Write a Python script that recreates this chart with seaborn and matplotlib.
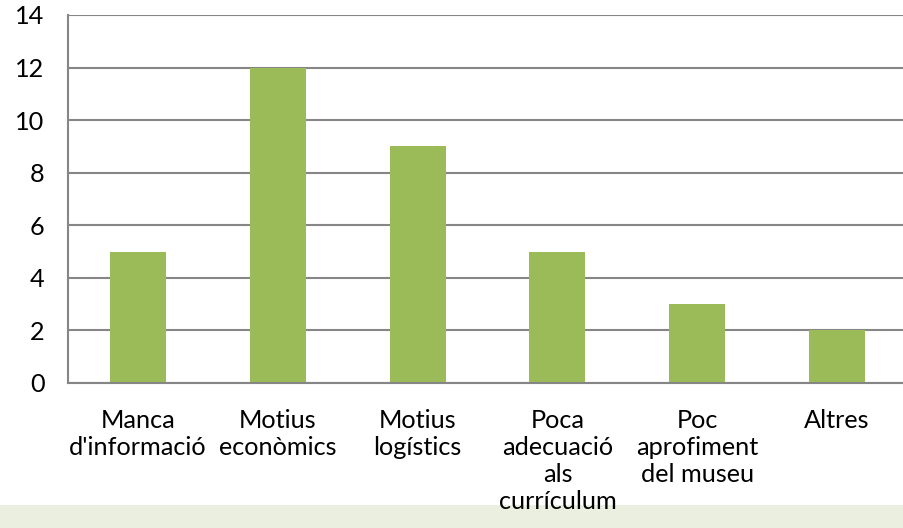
import matplotlib
matplotlib.use("Agg")
import matplotlib.pyplot as plt
import seaborn as sns
import pandas as pd
from matplotlib.patches import Rectangle

# ---------------------------------------------------------------------------
# Data
# ---------------------------------------------------------------------------
categories = [
    "Manca\nd'informació",
    "Motius\neconòmics",
    "Motius\nlogístics",
    "Poca\nadecuació\nals\ncurrículum",
    "Poc\naprofiment\ndel museu",
    "Altres",
]
values = [5, 12, 9, 5, 3, 2]
y_ticks = [0, 2, 4, 6, 8, 10, 12, 14]

# ---------------------------------------------------------------------------
# Style
# ---------------------------------------------------------------------------
BAR = "#9BBB59"
GRID = "#868686"
BAND = "#EBEFDF"
FS = 18.2

sns.set_theme(style="white")
plt.rcParams["font.family"] = ["Lato", "DejaVu Sans"]

df = pd.DataFrame({"categoria": categories, "valor": values})

fig = plt.figure(figsize=(9.04, 5.28), dpi=100)
fig.patch.set_facecolor("white")
fig.add_artist(Rectangle((0, 0), 1, 23 / 528, transform=fig.transFigure,
                         facecolor=BAND, edgecolor="none", zorder=-1))

ax = fig.add_axes([68 / 904, 1 - 383 / 528, 839 / 904, 368 / 528])
ax.set_facecolor("none")
sns.barplot(data=df, x="categoria", y="valor", color=BAR, saturation=1,
            width=0.4, linewidth=0, ax=ax)

ax.set_xlim(-0.5, len(categories) - 0.5)
ax.set_ylim(0, 14)
ax.set_yticks(y_ticks)
ax.yaxis.grid(True, color=GRID, linewidth=1.5)
ax.set_axisbelow(True)
ax.set_xlabel("")
ax.set_ylabel("")

for side in ("top", "right"):
    ax.spines[side].set_visible(False)
for side in ("left", "bottom"):
    ax.spines[side].set_color(GRID)
    ax.spines[side].set_linewidth(1.5)

ax.tick_params(axis="y", direction="out", length=6, width=1.5, color=GRID,
               pad=11, labelsize=FS, labelcolor="black")
ax.tick_params(axis="x", which="major", length=0, pad=19, labelsize=FS,
               labelcolor="black")
ax.set_xticks([i - 0.5 for i in range(len(categories) + 1)], minor=True)
ax.tick_params(axis="x", which="minor", direction="out", length=6, width=1.5,
               color=GRID)
for lbl in ax.get_xticklabels():
    lbl.set_linespacing(1.2)

fig.savefig("out.png", dpi=100)
